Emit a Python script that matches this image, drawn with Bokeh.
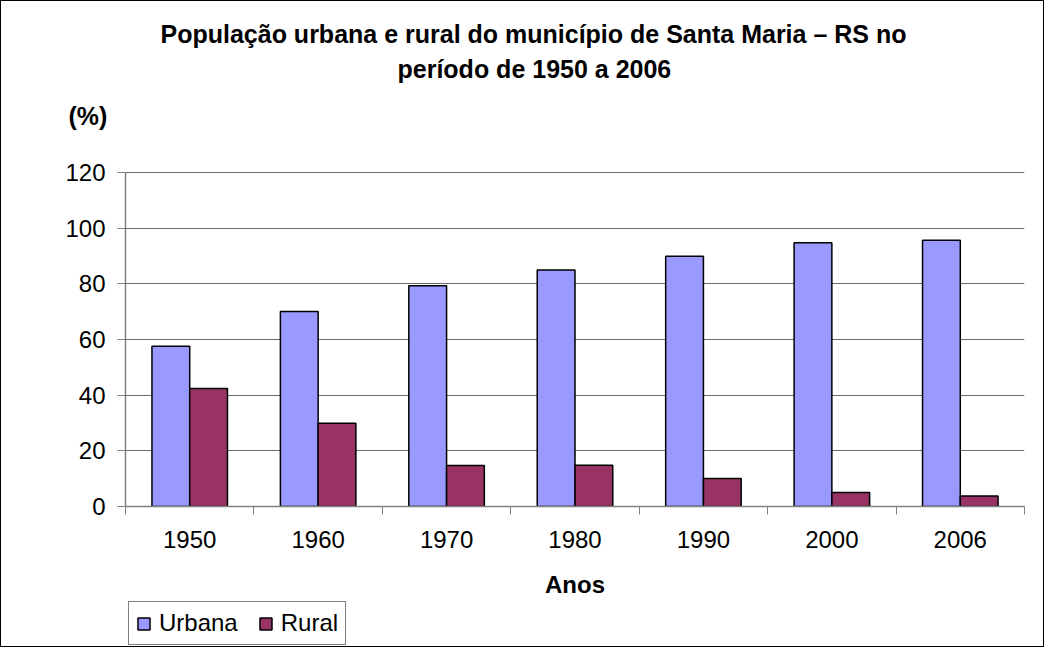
import numpy as np
from bokeh.plotting import figure
from bokeh.layouts import column
from bokeh.models import (ColumnDataSource, Range1d, FixedTicker, Title, Legend, LegendItem)
from bokeh.transform import dodge
from bokeh.embed import file_html
from bokeh.resources import INLINE

years = ["1950", "1960", "1970", "1980", "1990", "2000", "2006"]
urbana = [57.6, 70.1, 79.3, 85.0, 89.9, 94.8, 95.7]
rural = [42.4, 29.9, 14.7, 14.8, 10.1, 5.0, 3.8]
y_ticks = [0, 20, 40, 60, 80, 100, 120]
series_names = ["Urbana", "Rural"]
series_colors = ["#9999FF", "#993366"]

FONT = "Liberation Sans"
W = 1042
FL, FR, FT, FB = 124, 19, 141, 94
FRAME_W = W - FL - FR
FRAME_H = 364
PLOT_H = 334  # pixel height of the 0..120 value area
LEG_H = 46
y_top = y_ticks[-1] * FRAME_H / PLOT_H

centers = np.arange(len(years)) + 0.5
src = ColumnDataSource(dict(x=centers, year=years, urbana=urbana, rural=rural))

p = figure(frame_width=FRAME_W, frame_height=FRAME_H, output_backend="svg", toolbar_location=None,
           x_range=Range1d(0, len(years)), y_range=Range1d(0, y_top),
           min_border_left=FL, min_border_right=FR, min_border_top=FT, min_border_bottom=FB)
p.outline_line_color = None
p.background_fill_color = "white"
p.border_fill_color = "white"

p.vbar(x=dodge("x", -0.147, range=p.x_range), top="urbana", width=0.294, source=src,
       fill_color=series_colors[0], line_color="black", line_width=1.5)
p.vbar(x=dodge("x", 0.147, range=p.x_range), top="rural", width=0.294, source=src,
       fill_color=series_colors[1], line_color="black", line_width=1.5)

# x axis
p.xaxis.ticker = FixedTicker(ticks=list(centers), minor_ticks=list(np.arange(len(years) + 1)))
p.xaxis.major_label_overrides = {float(c): y for c, y in zip(centers, years)}
p.xaxis.major_tick_out = 0
p.xaxis.major_tick_in = 0
p.xaxis.minor_tick_out = 8
p.xaxis.minor_tick_in = 0
p.xaxis.minor_tick_line_color = "#808080"
p.xaxis.axis_line_color = "#808080"
p.xaxis.axis_line_width = 1.5
p.xaxis.major_label_text_font = FONT
p.xaxis.major_label_text_font_size = "24px"
p.xaxis.major_label_text_color = "black"
p.xaxis.major_label_standoff = 16
p.xaxis.axis_label = "Anos"
p.xaxis.axis_label_text_font = FONT
p.xaxis.axis_label_text_font_size = "24px"
p.xaxis.axis_label_text_font_style = "bold"
p.xaxis.axis_label_text_color = "black"
p.xaxis.axis_label_standoff = 20
p.xgrid.grid_line_color = None

# y axis (line limited to the value range)
p.yaxis.ticker = FixedTicker(ticks=y_ticks)
p.yaxis.bounds = (y_ticks[0], y_ticks[-1])
p.yaxis.major_tick_out = 8
p.yaxis.major_tick_in = 0
p.yaxis.minor_tick_line_color = None
p.yaxis.major_tick_line_color = "#808080"
p.yaxis.axis_line_color = "#808080"
p.yaxis.axis_line_width = 1.5
p.yaxis.major_label_text_font = FONT
p.yaxis.major_label_text_font_size = "24px"
p.yaxis.major_label_text_color = "black"
p.yaxis.major_label_standoff = 12
p.ygrid.grid_line_color = "#6a6a6a"
p.ygrid.grid_line_width = 1.2

# titles above (first added is nearest to the frame)
p.add_layout(Title(text="(%)", align="left", offset=-57, standoff=25,
                   text_font=FONT, text_font_size="25px", text_font_style="bold",
                   text_color="black"), "above")
p.add_layout(Title(text="período de 1950 a 2006", align="left", offset=272, standoff=10,
                   text_font=FONT, text_font_size="25px", text_font_style="bold",
                   text_color="black"), "above")
p.add_layout(Title(text="População urbana e rural do município de Santa Maria – RS no",
                   align="left", offset=35, standoff=0,
                   text_font=FONT, text_font_size="25px", text_font_style="bold",
                   text_color="black"), "above")

# legend strip: same series as hidden renderers, so only the key is drawn
pl = figure(width=W, height=LEG_H, output_backend="svg", toolbar_location=None,
            x_range=Range1d(0, len(years)), y_range=Range1d(0, y_top),
            x_axis_location=None, y_axis_location=None,
            min_border_left=0, min_border_right=0, min_border_top=0, min_border_bottom=0)
pl.outline_line_color = None
pl.grid.visible = False
lr1 = pl.vbar(x="x", top="urbana", width=0.3, source=src, visible=False,
              fill_color=series_colors[0], line_color="black", line_width=1.5)
lr2 = pl.vbar(x="x", top="rural", width=0.3, source=src, visible=False,
              fill_color=series_colors[1], line_color="black", line_width=1.5)
legend = Legend(items=[LegendItem(label=series_names[0], renderers=[lr1]),
                       LegendItem(label=series_names[1], renderers=[lr2])],
                orientation="horizontal", location=(3, 1),
                label_text_font=FONT, label_text_font_size="24px", label_text_color="black",
                glyph_width=15, glyph_height=15, spacing=20, padding=7, margin=0,
                label_standoff=8, label_height=24,
                inactive_fill_alpha=0.0,
                border_line_color="black", border_line_width=1,
                background_fill_alpha=1.0)
pl.add_layout(legend, "center")

layout = column(p, pl, spacing=0, styles={"border": "1.5px solid black", "background": "white"})
open("out.html", "w").write(file_html(layout, INLINE))
